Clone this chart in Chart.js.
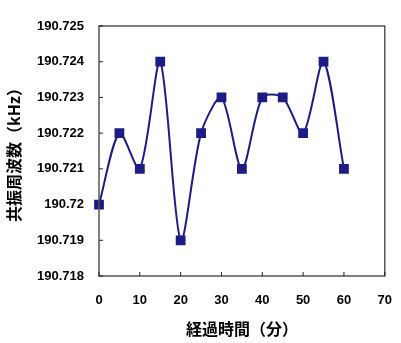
<!DOCTYPE html>
<html>
<head>
<meta charset="utf-8">
<script src="https://cdn.jsdelivr.net/npm/chart.js@4/dist/chart.umd.min.js"></script>
<style>
  html, body { margin: 0; padding: 0; background: #fff; }
  #wrap { width: 401px; height: 343px; }
</style>
</head>
<body>
<div id="wrap"><canvas id="chart"></canvas></div>
<script>
const minutes = [0, 5, 10, 15, 20, 25, 30, 35, 40, 45, 50, 55, 60];
const frequency = [190.720, 190.722, 190.721, 190.724, 190.719, 190.722, 190.723,
                   190.721, 190.723, 190.723, 190.722, 190.724, 190.721];
const yTicks = [190.718, 190.719, 190.720, 190.721, 190.722, 190.723, 190.724, 190.725];
const xTicks = [0, 10, 20, 30, 40, 50, 60, 70];

const tickFont = { family: "'Liberation Sans Narrow', 'Liberation Sans', Arial", size: 13, weight: "bold" };
const titleFont = { family: "'Noto Sans CJK JP', sans-serif", size: 16, weight: "bold" };

// frame around the plot and short inward tick marks
const framePlugin = {
  id: "frame",
  afterDraw(chart) {
    const { ctx, chartArea: a, scales } = chart;
    ctx.save();
    ctx.strokeStyle = "#555";
    ctx.lineWidth = 1.5;
    ctx.strokeRect(a.left, a.top, a.right - a.left, a.bottom - a.top);
    ctx.strokeStyle = "#222";
    ctx.lineWidth = 1;
    ctx.beginPath();
    yTicks.forEach(v => {
      const y = scales.y.getPixelForValue(v);
      ctx.moveTo(a.left, y);
      ctx.lineTo(a.left + 4, y);
    });
    xTicks.forEach(v => {
      const x = scales.x.getPixelForValue(v);
      ctx.moveTo(x, a.bottom);
      ctx.lineTo(x, a.bottom - 4);
    });
    ctx.stroke();
    ctx.restore();
  }
};

new Chart(document.getElementById("chart"), {
  type: "line",
  data: {
    datasets: [{
      data: minutes.map((m, i) => ({ x: m, y: frequency[i] })),
      borderColor: "#1c1c84",
      backgroundColor: "#1c1c84",
      borderWidth: 2,
      pointStyle: "rect",
      pointRadius: 5.5,
      tension: 0.28,
      clip: false
    }]
  },
  options: {
    responsive: true,
    maintainAspectRatio: false,
    animation: false,
    layout: { padding: { left: 0, top: 26, right: 14, bottom: 0 } },
    plugins: { legend: { display: false }, tooltip: { enabled: false } },
    scales: {
      x: {
        type: "linear",
        min: 0,
        max: 70,
        grid: { display: false },
        border: { display: false },
        afterBuildTicks: s => { s.ticks = xTicks.map(v => ({ value: v })); },
        afterFit: s => { s.height = 67; },
        ticks: { color: "#000", font: tickFont, padding: 9, maxRotation: 0 },
        title: { display: true, text: "経過時間（分）", color: "#000", font: titleFont, padding: { top: 6 } }
      },
      y: {
        min: 190.718,
        max: 190.725,
        grid: { display: false },
        border: { display: false },
        afterBuildTicks: s => { s.ticks = yTicks.map(v => ({ value: v })); },
        afterFit: s => { s.width = 99; },
        ticks: {
          color: "#000",
          font: tickFont,
          padding: 7,
          callback: v => String(Number(v.toFixed(3)))
        },
        title: { display: true, text: "共振周波数（kHz）", color: "#000", font: titleFont, padding: { top: 4 } }
      }
    }
  },
  plugins: [framePlugin]
});
</script>
</body>
</html>
